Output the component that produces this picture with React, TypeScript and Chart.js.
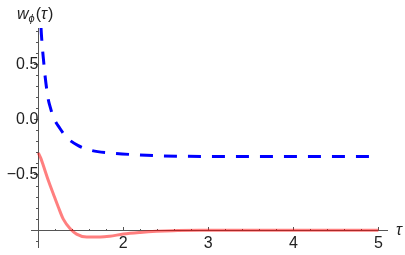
import React, { useEffect, useRef } from 'react';
import { Chart, registerables } from 'chart.js';

Chart.register(...registerables);

// Blue dashed curve
const tauBlue = [1.02, 1.032, 1.047, 1.06, 1.079, 1.099, 1.118, 1.138, 1.176, 1.255, 1.334, 1.47, 1.63, 1.84, 2.16, 2.43, 2.75, 3.2, 4.0, 5.0];
const wBlue = [1.05, 0.83, 0.66, 0.55, 0.4, 0.275, 0.18, 0.12, 0.025, -0.08, -0.16, -0.234, -0.279, -0.3, -0.318, -0.327, -0.331, -0.333, -0.333, -0.333];

// Red solid curve
const tauRed = [1.0, 1.03, 1.059, 1.118, 1.176, 1.235, 1.294, 1.373, 1.45, 1.57, 1.73, 1.84, 2.0, 2.2, 2.39, 2.58, 3.0, 3.5, 4.0, 4.5, 5.0];
const wRed = [-0.3, -0.35, -0.415, -0.55, -0.67, -0.79, -0.9, -0.985, -1.035, -1.062, -1.062, -1.055, -1.035, -1.02, -1.01, -1.004, -1.001, -1.0, -1.0, -1.0, -1.0];

// Axis ticks
const xTicks = [1, 1.2, 1.4, 1.6, 1.8, 2, 2.2, 2.4, 2.6, 2.8, 3, 3.2, 3.4, 3.6, 3.8, 4, 4.2, 4.4, 4.6, 4.8, 5];
const xMajor = [1, 2, 3, 4, 5];
const xLabels = [2, 3, 4, 5];
const yTicks = [-1.1, -1.0, -0.9, -0.8, -0.7, -0.6, -0.5, -0.4, -0.3, -0.2, -0.1, 0, 0.1, 0.2, 0.3, 0.4, 0.5, 0.6, 0.7, 0.8];
const yMajor = [-1.0, -0.5, 0, 0.5];
const yLabels = [-0.5, 0, 0.5];

const FONT = '"Liberation Sans", Arial, sans-serif';
const near = (a: number, b: number) => Math.abs(a - b) < 1e-6;
const inList = (v: number, list: number[]) => list.some((t) => near(t, v));

const labelPlugin = {
  id: 'axisLabels',
  afterDraw(chart: any) {
    const ctx = chart.ctx as CanvasRenderingContext2D;
    ctx.save();
    ctx.fillStyle = '#222';
    ctx.textBaseline = 'alphabetic';
    ctx.textAlign = 'left';
    // y label: w_phi(tau)
    let x = 17;
    const base = 19;
    ctx.font = `italic 16px ${FONT}`;
    ctx.fillText('w', x, base);
    x += ctx.measureText('w').width;
    ctx.font = `italic 11px ${FONT}`;
    ctx.fillText('ϕ', x, base + 3);
    x += ctx.measureText('ϕ').width + 1;
    ctx.font = `16px ${FONT}`;
    ctx.fillText('(', x, base);
    x += ctx.measureText('(').width;
    ctx.font = `italic 16px ${FONT}`;
    ctx.fillText('τ', x, base);
    x += ctx.measureText('τ').width + 1;
    ctx.font = `16px ${FONT}`;
    ctx.fillText(')', x, base);
    // x label tau
    ctx.font = `italic 16px ${FONT}`;
    ctx.fillText('τ', 396, 235);
    ctx.restore();
  },
};

export default function App() {
  const ref = useRef<HTMLCanvasElement | null>(null);
  useEffect(() => {
    if (!ref.current) return;
    const chart = new Chart(ref.current, {
      type: 'line',
      data: {
        datasets: [
          {
            data: tauRed.map((t, i) => ({ x: t, y: wRed[i] })),
            borderColor: 'rgba(255,0,0,0.5)',
            borderWidth: 3,
            pointRadius: 0,
            cubicInterpolationMode: 'monotone',
            fill: false,
          },
          {
            data: tauBlue.map((t, i) => ({ x: t, y: wBlue[i] })),
            borderColor: 'rgb(0,0,255)',
            borderWidth: 3,
            borderDash: [13, 11],
            pointRadius: 0,
            cubicInterpolationMode: 'monotone',
            fill: false,
          },
        ],
      },
      options: {
        animation: false,
        responsive: true,
        maintainAspectRatio: false,
        layout: { padding: { left: 31, right: 18, top: 28, bottom: 8 } },
        plugins: { legend: { display: false }, tooltip: { enabled: false } },
        scales: {
          x: {
            type: 'linear',
            min: 0.914,
            max: 5.102,
            position: { y: -1 } as any,
            afterBuildTicks: (s: any) => {
              s.ticks = xTicks.map((v) => ({ value: v }));
            },
            afterFit: (s: any) => {
              s.height = 0;
              s.paddingLeft = 0;
              s.paddingRight = 0;
            },
            border: { display: true, color: '#555', width: 1 },
            grid: {
              display: true,
              drawOnChartArea: false,
              drawTicks: true,
              tickLength: -4,
              tickColor: '#555',
              tickBorderDash: (c: any) => (inList(c.tick?.value, xMajor) ? [] : [2, 20]),
            },
            ticks: {
              autoSkip: false,
              maxRotation: 0,
              padding: 8,
              color: '#222',
              font: { family: FONT, size: 16 },
              callback: (v: any) => (inList(Number(v), xLabels) ? String(Math.round(Number(v))) : ''),
            },
          },
          y: {
            type: 'linear',
            min: -1.152,
            max: 0.83,
            position: { x: 1 } as any,
            afterBuildTicks: (s: any) => {
              s.ticks = yTicks.map((v) => ({ value: v }));
            },
            afterFit: (s: any) => {
              s.width = 0;
              s.paddingTop = 0;
              s.paddingBottom = 0;
            },
            border: { display: true, color: '#555', width: 1 },
            grid: {
              display: true,
              drawOnChartArea: false,
              drawTicks: true,
              tickLength: 4,
              tickColor: '#555',
              tickBorderDash: (c: any) => (inList(c.tick?.value, yMajor) ? [] : [2, 20]),
            },
            ticks: {
              autoSkip: false,
              padding: 3,
              color: '#222',
              font: { family: FONT, size: 16 },
              callback: (v: any) => {
                const n = Number(v);
                if (!inList(n, yLabels)) return '';
                const s = Math.abs(n).toFixed(1);
                return n < -1e-9 ? '−' + s : s;
              },
            },
          },
        },
      },
      plugins: [labelPlugin],
    });
    return () => chart.destroy();
  }, []);
  return (
    <div style={{ position: 'absolute', left: 0, top: 0, width: 405, height: 255 }}>
      <canvas ref={ref} />
    </div>
  );
}
